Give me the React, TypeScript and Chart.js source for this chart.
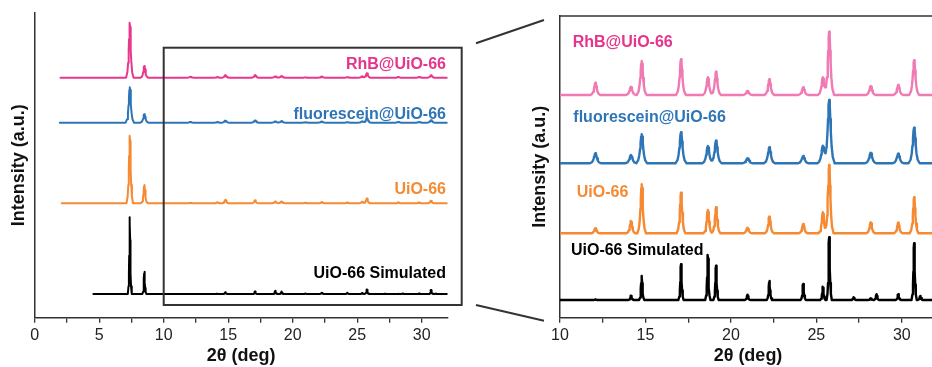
import React, { useEffect, useRef } from 'react';
import { Chart, registerables } from 'chart.js';

Chart.register(...registerables);

// ---------------- data ----------------
// Bragg peak positions, 2θ (deg)
const peakPositions = [7.37, 8.5, 12.07, 14.15, 14.78, 17.08, 18.65, 19.13, 20.97, 22.25, 24.23, 25.38, 25.75, 27.18, 28.18, 28.52, 29.79, 30.72, 31.08];

// Peak intensities (a.u.) for each pattern, same order as peakPositions
const rhbIntensity = [770, 164, 12.3, 8.3, 34, 35.7, 17.7, 23.3, 4, 15.7, 7.7, 17.7, 63.3, 0, 9, 0, 10, 34.7, 0];
const fluoresceinIntensity = [496, 118, 10, 8.3, 29, 31, 17.3, 22.7, 5, 16, 7.3, 17.7, 63.3, 0, 10.7, 0, 9.7, 35.7, 0];
const uioIntensity = [946, 256, 5, 12.3, 49, 40.7, 23.3, 26, 5.7, 16.7, 9.3, 21, 68.3, 0, 11, 0, 10.7, 36, 0];
const simulatedIntensity = [1074, 312, 0.5, 4.3, 24, 35.7, 45, 34.3, 5.3, 19, 16, 13.3, 62.7, 2.7, 1.7, 5.7, 5.7, 56.7, 4];

const seriesNames = ['RhB@UiO-66', 'fluorescein@UiO-66', 'UiO-66', 'UiO-66 Simulated'];
const scanStart = [2.0, 1.95, 2.1, 4.55];
const scanEnd = 32;

// vertical stacking offsets (a.u.) in each panel
const overviewOffsets = [3360, 2730, 1602, 332];
const zoomOffsets = [222.7, 154.4, 84.4, 17.7];

const xTickStep = 2.5;
const xLabelStep = 5;

// ---------------- styles ----------------
const FONT = '"Liberation Sans", Arial, Helvetica, sans-serif';
const labelColors = ['#E6338B', '#2E75B6', '#F58A33', '#000000'];
const overviewLineColors = ['#E8388C', '#2E75B6', '#F58A33', '#000000'];
const zoomLineColors = ['#F07AB2', '#2E75B6', '#F58A33', '#000000'];
const peakHalfWidths = [0.085, 0.095, 0.075, 0.045];
const AXIS_COLOR = '#333333';

// peak profile template (offsets in half-widths, relative height)
const SHAPE_DX = [0, 0.35, 0.7, 1, 1.5, 2.2, 3.4];
const SHAPE_FY = [1, 0.92, 0.7, 0.5, 0.27, 0.1, 0];

function shape(u: number): number {
  const a = Math.abs(u);
  if (a >= SHAPE_DX[SHAPE_DX.length - 1]) return 0;
  for (let i = 1; i < SHAPE_DX.length; i++) {
    if (a <= SHAPE_DX[i]) {
      const t = (a - SHAPE_DX[i - 1]) / (SHAPE_DX[i] - SHAPE_DX[i - 1]);
      return SHAPE_FY[i - 1] + t * (SHAPE_FY[i] - SHAPE_FY[i - 1]);
    }
  }
  return 0;
}

function buildPattern(intensity: number[], hw: number, start: number, offset: number) {
  const xs: number[] = [start, scanEnd];
  peakPositions.forEach((c, i) => {
    if (intensity[i] <= 0) return;
    SHAPE_DX.forEach((d) => {
      xs.push(c - d * hw);
      xs.push(c + d * hw);
    });
  });
  const sorted = Array.from(new Set(xs.filter((v) => v >= start && v <= scanEnd))).sort((a, b) => a - b);
  return sorted.map((x) => {
    let y = 0;
    peakPositions.forEach((c, i) => {
      if (intensity[i] > 0) y += intensity[i] * shape((x - c) / hw);
    });
    return { x, y: offset + y };
  });
}

const allIntensities = [rhbIntensity, fluoresceinIntensity, uioIntensity, simulatedIntensity];

// annotation positions (data units of each panel)
const zoomBox = { x0: 10, x1: 33.1, y0: 178, y1: 3780 };
const overviewLabelX = 31.88;
const overviewLabelY = [3548, 2838, 1798, 622];
const zoomLabelX = [10.74, 10.78, 10.98, 10.64];
const zoomLabelY = [275.4, 200, 125, 66.7];

function xAxis(min: number, max: number) {
  return {
    type: 'linear' as const,
    min,
    max,
    afterFit: (s: any) => { s.height = 49.3; },
    ticks: {
      stepSize: xTickStep,
      includeBounds: false,
      autoSkip: false,
      maxRotation: 0,
      padding: 3,
      color: '#222',
      font: { family: FONT, size: 16 },
      callback: (v: any) => (Math.abs(v % xLabelStep) < 1e-6 ? String(v) : ''),
    },
    grid: { display: true, drawOnChartArea: false, drawTicks: true, tickLength: 5, color: AXIS_COLOR, lineWidth: 1.3 },
    border: { display: true, color: AXIS_COLOR, width: 1.5 },
    title: { display: true, text: '2θ (deg)', color: '#111', font: { family: FONT, size: 18, weight: 'bold' as const }, padding: { top: 0, bottom: 0 } },
  };
}

function yAxis(max: number, width: number, titlePad: number) {
  return {
    type: 'linear' as const,
    min: 0,
    max,
    afterFit: (s: any) => { s.width = width; },
    ticks: { display: false },
    grid: { display: false },
    border: { display: true, color: AXIS_COLOR, width: 1.5 },
    title: { display: true, text: 'Intensity (a.u.)', color: '#111', font: { family: FONT, size: 18, weight: 'bold' as const }, padding: { top: titlePad, bottom: 0 } },
  };
}

const overviewDecor = {
  id: 'overviewDecor',
  afterDatasetsDraw(chart: any) {
    const { ctx, scales } = chart;
    const x = scales.x;
    const y = scales.y;
    ctx.save();
    ctx.strokeStyle = AXIS_COLOR;
    ctx.lineWidth = 2;
    const px0 = x.getPixelForValue(zoomBox.x0);
    const px1 = x.getPixelForValue(zoomBox.x1);
    const py0 = y.getPixelForValue(zoomBox.y1);
    const py1 = y.getPixelForValue(zoomBox.y0);
    ctx.strokeRect(px0, py0, px1 - px0, py1 - py0);
    ctx.font = `bold 16px ${FONT}`;
    ctx.textAlign = 'right';
    ctx.textBaseline = 'middle';
    seriesNames.forEach((n, i) => {
      ctx.fillStyle = labelColors[i];
      ctx.fillText(n, x.getPixelForValue(overviewLabelX), y.getPixelForValue(overviewLabelY[i]));
    });
    ctx.restore();
  },
};

const zoomDecor = {
  id: 'zoomDecor',
  afterDatasetsDraw(chart: any) {
    const { ctx, scales, chartArea } = chart;
    const x = scales.x;
    const y = scales.y;
    ctx.save();
    // top frame line
    ctx.strokeStyle = AXIS_COLOR;
    ctx.lineWidth = 1.5;
    ctx.beginPath();
    ctx.moveTo(chartArea.left, chartArea.top);
    ctx.lineTo(chartArea.right + 20, chartArea.top);
    ctx.stroke();
    // connector lines toward the zoom box
    ctx.lineWidth = 2;
    ctx.beginPath();
    ctx.moveTo(chartArea.left - 84, chartArea.top + 27.3);
    ctx.lineTo(chartArea.left - 16, chartArea.top + 4);
    ctx.moveTo(chartArea.left - 84, chartArea.bottom - 12.7);
    ctx.lineTo(chartArea.left - 16, chartArea.bottom + 3);
    ctx.stroke();
    ctx.font = `bold 16px ${FONT}`;
    ctx.textAlign = 'left';
    ctx.textBaseline = 'middle';
    seriesNames.forEach((n, i) => {
      ctx.fillStyle = labelColors[i];
      ctx.fillText(n, x.getPixelForValue(zoomLabelX[i]), y.getPixelForValue(zoomLabelY[i]));
    });
    ctx.restore();
  },
};

export default function App() {
  const leftRef = useRef<HTMLCanvasElement>(null);
  const rightRef = useRef<HTMLCanvasElement>(null);

  useEffect(() => {
    const lineStyle = { pointRadius: 0, tension: 0, borderJoinStyle: 'round', borderCapStyle: 'round' };
    const leftData = allIntensities.map((int, i) => ({
      ...lineStyle,
      data: buildPattern(int, peakHalfWidths[i], scanStart[i], overviewOffsets[i]),
      borderColor: overviewLineColors[i],
      borderWidth: 2,
      label: seriesNames[i],
    }));
    const rightData = allIntensities.map((int, i) => ({
      ...lineStyle,
      data: buildPattern(int, peakHalfWidths[i], Math.max(scanStart[i], 9.5), zoomOffsets[i]),
      borderColor: zoomLineColors[i],
      borderWidth: 2.4,
      label: seriesNames[i],
    }));

    const left = new Chart(leftRef.current!, {
      type: 'line',
      data: { datasets: leftData as any },
      options: {
        responsive: false,
        animation: false,
        layout: { padding: { left: 0, top: 13, right: 22.5, bottom: 0 } },
        plugins: { legend: { display: false }, tooltip: { enabled: false } },
        scales: { x: xAxis(0, 32) as any, y: yAxis(4266, 34.7, 8) as any },
      },
      plugins: [overviewDecor],
    });
    const right = new Chart(rightRef.current!, {
      type: 'line',
      data: { datasets: rightData as any },
      options: {
        responsive: false,
        animation: false,
        layout: { padding: { left: 56, top: 16, right: 14, bottom: 0 } },
        plugins: { legend: { display: false }, tooltip: { enabled: false } },
        scales: { x: xAxis(10, 32) as any, y: yAxis(301.7, 34, 3) as any },
      },
      plugins: [zoomDecor],
    });
    return () => {
      left.destroy();
      right.destroy();
    };
  }, []);

  return (
    <div style={{ position: 'fixed', left: 0, top: 0, width: 932, height: 367, overflow: 'hidden', background: '#fff' }}>
      <canvas ref={leftRef} width={470} height={367} style={{ position: 'absolute', left: 0, top: 0 }} />
      <canvas ref={rightRef} width={480} height={367} style={{ position: 'absolute', left: 470, top: 0 }} />
    </div>
  );
}
